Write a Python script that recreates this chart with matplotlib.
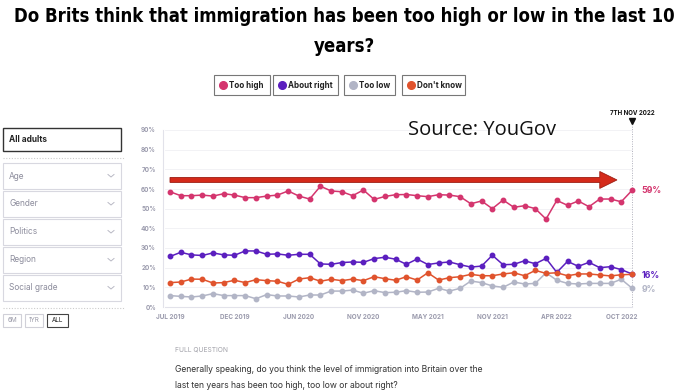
import matplotlib
matplotlib.use("Agg")
import matplotlib.pyplot as plt
from matplotlib.patches import Rectangle, FancyArrow
from matplotlib.lines import Line2D

# Datos (porcentaje de adultos)
tick_labels = ["JUL 2019", "DEC 2019", "JUN 2020", "NOV 2020",
               "MAY 2021", "NOV 2021", "APR 2022", "OCT 2022"]
tick_index = [0, 6, 12, 18, 24, 30, 36, 42]

too_high = [58.6, 56.6, 56.6, 56.9, 56.4, 57.6, 56.9, 55.6, 55.6, 56.4,
            56.9, 59.0, 56.4, 54.9, 61.4, 59.0, 58.6, 56.6, 59.5, 54.7,
            56.2, 57.1, 57.2, 56.6, 56.1, 57.1, 56.9, 56.1, 52.5, 53.9,
            50.0, 54.4, 50.7, 51.5, 50.0, 44.7, 54.2, 51.7, 53.9, 51.0,
            54.9, 54.9, 53.5, 59.3]
about_right = [25.7, 27.8, 26.5, 26.2, 27.5, 26.5, 26.3, 28.5, 28.5, 26.8,
               27.0, 26.3, 26.8, 26.8, 21.9, 21.7, 22.6, 22.9, 22.7, 24.6,
               25.3, 24.3, 21.7, 24.4, 21.6, 22.4, 22.9, 21.5, 20.3, 20.8,
               26.3, 21.5, 21.7, 23.5, 22.0, 24.7, 17.6, 23.2, 20.7, 22.7,
               20.0, 20.5, 19.0, 16.8]
too_low = [5.8, 5.4, 5.1, 5.6, 6.8, 5.8, 5.8, 5.8, 4.2, 6.3,
           5.6, 5.6, 5.1, 6.1, 6.1, 8.1, 8.1, 8.6, 7.0, 8.3,
           7.3, 7.5, 8.3, 7.5, 7.6, 9.5, 8.1, 9.5, 13.2, 12.4,
           10.7, 10.0, 12.7, 11.7, 12.0, 17.4, 13.6, 12.0, 11.7, 12.0,
           12.0, 12.0, 14.1, 9.6]
dont_know = [12.4, 12.7, 14.2, 14.1, 12.2, 12.4, 13.6, 12.4, 13.9, 13.4,
             13.1, 11.5, 14.2, 14.9, 13.1, 14.1, 13.4, 14.2, 13.4, 15.4,
             14.4, 13.6, 15.4, 13.7, 17.4, 13.7, 14.9, 15.4, 16.6, 15.9,
             15.9, 16.8, 17.4, 15.9, 18.6, 17.1, 17.4, 15.9, 16.8, 16.8,
             16.3, 15.8, 16.4, 16.6]

series_names = ["Too high", "About right", "Too low", "Don't know"]
series_colors = ["#d4356e", "#5b1fbf", "#b2b5c6", "#e0532d"]
end_labels = ["59%", "16%", "9%"]

W, H = 686, 392
UI = "Inter"
GREY = "#9b9bad"


def fx(x):
    return x / W


def fy(y):
    return 1 - y / H


fig = plt.figure(figsize=(6.86, 3.92), dpi=100)

# Titulo (se ajusta el tamaño al ancho del original)
t1 = fig.text(fx(344), fy(17), "Do Brits think that immigration has been too high or low in the last 10",
              ha="center", va="center", fontsize=14, fontweight="bold",
              family="DejaVu Sans", fontstretch="condensed")
t2 = fig.text(fx(344), fy(46), "years?", ha="center", va="center", fontsize=14,
              fontweight="bold", family="DejaVu Sans", fontstretch="condensed")
r = fig.canvas.get_renderer()
ancho = t1.get_window_extent(r).width
fs = 14 * 668 / ancho
t1.set_fontsize(fs)
t2.set_fontsize(fs)

# Leyenda en cajas
boxes = [(214, 56), (273, 65), (344, 51), (402, 63)]
for (bx, bw), name, col in zip(boxes, series_names, series_colors):
    fig.add_artist(Rectangle((fx(bx), fy(95)), bw / W, 20 / H, transform=fig.transFigure,
                             facecolor="white", edgecolor="#777777", lw=0.8))
    fig.add_artist(Line2D([fx(bx + 9)], [fy(85)], marker="o", markersize=5.5,
                          color=col, transform=fig.transFigure))
    fig.text(fx(bx + 15), fy(85.5), name, ha="left", va="center", fontsize=5.8,
             fontweight="bold", family=UI, color="#222222")

# Panel lateral
fig.add_artist(Rectangle((fx(3), fy(151)), 118 / W, 23 / H, transform=fig.transFigure,
                         facecolor="white", edgecolor="#333333", lw=1.0))
fig.text(fx(9), fy(139.5), "All adults", ha="left", va="center", fontsize=6,
         fontweight="bold", family=UI, color="#222222")
for yy in (158, 308):
    fig.add_artist(Line2D([fx(3), fx(124)], [fy(yy), fy(yy)], color="#cccccc", lw=0.8,
                          ls=(0, (1, 1.5)), transform=fig.transFigure))
filters = ["Age", "Gender", "Politics", "Region", "Social grade"]
for i, f in enumerate(filters):
    top = 163 + i * 28
    fig.add_artist(Rectangle((fx(3), fy(top + 26)), 118 / W, 26 / H, transform=fig.transFigure,
                             facecolor="white", edgecolor="#d8d8e0", lw=0.8))
    fig.text(fx(9), fy(top + 13), f, ha="left", va="center", fontsize=6,
             family=UI, color="#8c8c9c")
    fig.add_artist(Line2D([fx(108), fx(111), fx(114)], [fy(top + 11.5), fy(top + 14), fy(top + 11.5)],
                          color="#b8b8c4", lw=0.7, transform=fig.transFigure))
for lbl, bx, bw, ec, tc in [("6M", 3, 18, "#d0d0d8", "#9a9aa8"), ("1YR", 25, 18, "#d0d0d8", "#9a9aa8"),
                            ("ALL", 47, 21, "#444444", "#222222")]:
    fig.add_artist(Rectangle((fx(bx), fy(327)), bw / W, 13 / H, transform=fig.transFigure,
                             facecolor="white", edgecolor=ec, lw=0.8))
    fig.text(fx(bx + bw / 2), fy(320.5), lbl, ha="center", va="center", fontsize=4.6,
             family=UI, color=tc)

# Grafico principal
px_per_idx = 462 / 43
left_px, right_px = 163, 640
ax = fig.add_axes([fx(left_px), fy(307), (right_px - left_px) / W, (307 - 118) / H])
ax.set_xlim(-(170 - left_px) / px_per_idx, 43 + (right_px - 632) / px_per_idx)
ax.set_ylim(0, 90 * (307 - 118) / (307 - 130))

x = list(range(len(too_high)))
for vals, col in zip([too_high, about_right, too_low, dont_know], series_colors):
    ax.plot(x, vals, color=col, lw=1.1, marker="o", markersize=3.2, clip_on=False, zorder=3)

ax.set_yticks(range(0, 91, 10))
ax.set_yticklabels([f"{v}%" for v in range(0, 91, 10)])
ax.set_xticks(tick_index)
ax.set_xticklabels(tick_labels)
ax.tick_params(length=0, labelsize=4.6, labelcolor=GREY, pad=5)
for t in ax.get_xticklabels() + ax.get_yticklabels():
    t.set_fontweight("bold")
    t.set_family(UI)
x0 = -(170 - 165) / px_per_idx
for yv in range(10, 91, 10):
    ax.plot([x0, 43], [yv, yv], color="#f0f0f4", lw=0.6, zorder=1)
for s in ["top", "right"]:
    ax.spines[s].set_visible(False)
ax.spines["left"].set_color("#e2e2ea")
ax.spines["bottom"].set_color("#e2e2ea")
ax.spines["left"].set_bounds(0, 90)
ax.spines["bottom"].set_bounds(x0, 43)

# Marca de la ultima fecha
last = len(too_high) - 1
ax.plot([last, last], [0, 94], color="#b0b0bc", lw=0.7, ls=(0, (1, 1.5)), zorder=2)
ax.plot([last], [94.6], marker="v", color="#111111", markersize=4, clip_on=False)
ax.text(last, 98.5, "7TH NOV 2022", ha="center", va="center", fontsize=4.4,
        fontweight="bold", family=UI, color="#111111", clip_on=False)

# Etiquetas finales
end_vals = [too_high[-1], about_right[-1] - 0.6, too_low[-1] - 0.6]
for txt, yv, col in zip(end_labels, end_vals, series_colors[:3]):
    ax.text(last + 0.85, yv, txt, ha="left", va="center", fontsize=6.3,
            fontweight="bold", family=UI, color=col, clip_on=False)

# Flecha roja
ax.add_patch(FancyArrow(0, 64.6, 41.6, 0, width=2.5, head_width=8.6, head_length=1.6,
                        length_includes_head=True, facecolor="#d42a1a", edgecolor="#9c1d12",
                        lw=0.6, zorder=4, clip_on=False))

fig.text(fx(408), fy(130), "Source: YouGov", ha="left", va="center", fontsize=14.5,
         family="Open Sans", color="#111111")

# Pregunta completa
fig.text(fx(175), fy(349), "FULL QUESTION", ha="left", va="center", fontsize=4.8,
         family=UI, color="#a0a0a8")
fig.text(fx(175), fy(369), "Generally speaking, do you think the level of immigration into Britain over the",
         ha="left", va="center", fontsize=6.2, family=UI, color="#333333")
fig.text(fx(175), fy(385), "last ten years has been too high, too low or about right?",
         ha="left", va="center", fontsize=6.2, family=UI, color="#333333")

fig.savefig("out.png", dpi=100, facecolor="white")
